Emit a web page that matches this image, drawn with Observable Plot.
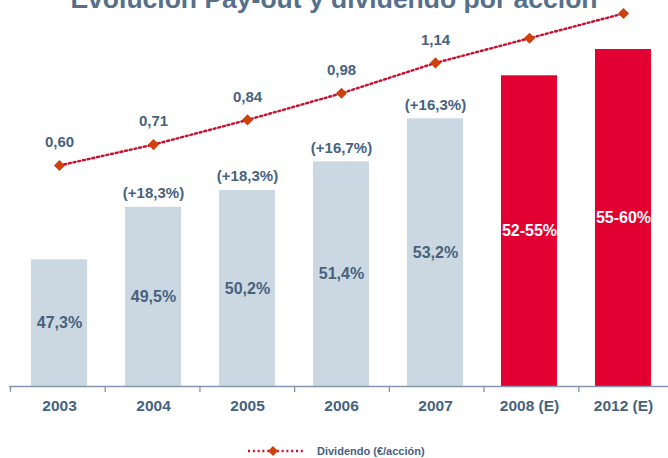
<!DOCTYPE html>
<html>
<head>
<meta charset="utf-8">
<script src="https://cdn.jsdelivr.net/npm/d3@7"></script>
<script src="https://cdn.jsdelivr.net/npm/@observablehq/plot@0.6"></script>
<style>
  html, body { margin: 0; padding: 0; background: #fff; }
  #wrap { position: relative; width: 668px; height: 458px; overflow: hidden; font-family: "Liberation Sans", Arial, sans-serif; }
  #wrap svg.layer { position: absolute; left: 0; top: 0; overflow: visible; }
  #title { position: absolute; left: 0; width: 668px; top: -14px; text-align: center; font-size: 26.5px; line-height: 26px; font-weight: bold; color: #566f8b; white-space: nowrap; }
  #legend { position: absolute; left: 0; top: 443px; width: 668px; height: 16px; }
</style>
</head>
<body>
<div id="wrap">
  <div id="title">Evolución Pay-out y dividendo por acción</div>
</div>
<script>
// ---- data ----
const years = ["2003", "2004", "2005", "2006", "2007", "2008 (E)", "2012 (E)"];
const payout = [47.3, 49.5, 50.2, 51.4, 53.2, 55.0, 56.1];
const payoutLabels = ["47,3%", "49,5%", "50,2%", "51,4%", "53,2%", "52-55%", "55-60%"];
const estimated = [false, false, false, false, false, true, true];
const growthLabels = ["", "(+18,3%)", "(+18,3%)", "(+16,7%)", "(+16,3%)", "", ""];
const dividend = [0.60, 0.71, 0.84, 0.98, 1.14, 1.27, 1.40];
const dividendLabels = ["0,60", "0,71", "0,84", "0,98", "1,14", "", ""];
const legendLabel = "Dividendo (€/acción)";

const rows = years.map((year, i) => ({
  year, payout: payout[i], payoutLabel: payoutLabels[i], est: estimated[i],
  growth: growthLabels[i], div: dividend[i], divLabel: dividendLabels[i], idx: i
}));

const W = 668, H = 458;
const BASE = 42;
const slate = "#47627f";
const lightBar = "#cbd8e1";
const redBar = "#e10031";
const lineColor = "#c8102e";
const markerColor = "#d0400c";
const axisColor = "#8396aa";
const font = "Liberation Sans, Arial, sans-serif";
const dash = "2,2.8";

const xBand = { type: "band", domain: years, range: [10, 673], paddingInner: 0.4, paddingOuter: 0.2, axis: null };
const common = { width: W, height: H, marginLeft: 9, marginRight: 0, marginTop: 0, marginBottom: 72, style: { fontFamily: font, background: "transparent", overflow: "visible" } };

// Layer A: bars, labels, axis
const barsLayer = Plot.plot({
  ...common,
  x: xBand,
  y: { domain: [BASE, 58], range: [386, 386 - 16 * 23.9], axis: null },
  color: { type: "identity" },
  marks: [
    Plot.barY(rows, { x: "year", y1: BASE, y2: "payout", fill: d => d.est ? redBar : lightBar }),
    Plot.text(rows, { x: "year", y: d => (BASE + d.payout) / 2, text: "payoutLabel",
      fill: d => d.est ? "#ffffff" : slate, fontSize: 16, fontWeight: "bold" }),
    Plot.text(rows.filter(d => d.growth), { x: "year", y: "payout", text: "growth", dy: -14,
      fill: slate, fontSize: 15, fontWeight: "bold" }),
    Plot.ruleY([BASE], { stroke: axisColor, strokeWidth: 1.3 }),
    Plot.text(rows, { x: "year", text: "year", frameAnchor: "bottom", dy: 24.6,
      fill: slate, fontSize: 15.5, fontWeight: "bold" })
  ]
});

// Layer C: tick marks at category boundaries
const tickIdx = d3.range(years.length + 1);
const ticksLayer = Plot.plot({
  ...common,
  x: { type: "linear", domain: [0, years.length], range: [10, 673], axis: null },
  y: { domain: [0, 1], range: [386, 392], axis: null },
  marks: [
    Plot.ruleX(tickIdx, { x: d => d, y1: 0, y2: 1, stroke: axisColor, strokeWidth: 1.3 })
  ]
});

// Layer B: dividend line
const lineLayer = Plot.plot({
  ...common,
  x: xBand,
  y: { domain: [0.6, 1.4], range: [165, 13], axis: null },
  marks: [
    Plot.line(rows, { x: "year", y: "div", stroke: lineColor, strokeWidth: 2.4, strokeDasharray: dash }),
    Plot.dot(rows, { x: "year", y: "div", symbol: "diamond2", r: 5, fill: markerColor, stroke: "none" }),
    Plot.text(rows.filter(d => d.divLabel), { x: "year", y: "div", text: "divLabel", dy: -23,
      fill: slate, fontSize: 15, fontWeight: "bold" })
  ]
});
// make sure the dotted style is on the line path itself
lineLayer.querySelectorAll('g[aria-label="line"], g[aria-label="line"] path').forEach(el => {
  el.setAttribute("stroke-dasharray", dash);
});

const wrap = document.getElementById("wrap");
for (const svg of [barsLayer, ticksLayer, lineLayer]) {
  svg.classList.add("layer");
  wrap.appendChild(svg);
}

// Legend
const legend = document.createElement("div");
legend.id = "legend";
legend.innerHTML = `
<svg width="668" height="16" style="position:absolute;left:0;top:0;overflow:visible">
  <line x1="248" x2="303" y1="8" y2="8" stroke="${lineColor}" stroke-width="2.4" stroke-dasharray="${dash}"/>
  <path d="M273,3 L278,8 L273,13 L268,8 Z" fill="${markerColor}"/>
  <text x="317" y="8" dy="0.36em" font-family="${font}" font-size="11" font-weight="bold" fill="${slate}">${legendLabel}</text>
</svg>`;
wrap.appendChild(legend);
</script>
</body>
</html>
